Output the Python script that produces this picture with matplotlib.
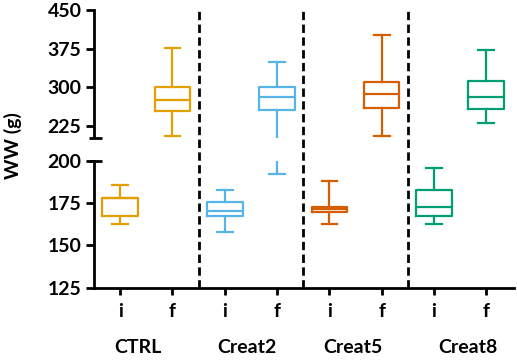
import matplotlib
matplotlib.use("Agg")
import matplotlib.pyplot as plt

plt.rcParams['font.family'] = ['Lato', 'DejaVu Sans']
plt.rcParams['font.weight'] = 'bold'

groups = ["CTRL", "Creat2", "Creat5", "Creat8"]
phases = ["i", "f"]
colors = ["#E69F00", "#56B4E9", "#D55E00", "#009E73"]

# initial (i) stats
whislo_i = [162.5, 158, 162.5, 162.5]
q1_i = [167.5, 167.5, 169.7, 167.3]
med_i = [177.8, 170.1, 171.3, 172.5]
q3_i = [177.8, 175.4, 172.8, 182.7]
whishi_i = [185.5, 182.7, 187.8, 195.5]

# final (f) stats
whislo_f = [204, 192, 205, 231]
q1_f = [254, 256, 259, 258]
med_f = [275.5, 280.6, 286.5, 280]
q3_f = [301, 301, 309.7, 311]
whishi_f = [375.5, 349, 401, 372]

group_label_x = [1.34, 3.43, 5.44, 7.65]

FS = 14
W, H = 517, 360
fig = plt.figure(figsize=(W / 100, H / 100), dpi=100)

left = 94 / W
right = 514 / W
ax_ov = fig.add_axes([left, 1 - 287.7 / H, right - left, (287.7 - 10) / H])
ax_up = fig.add_axes([left, 1 - 137.5 / H, right - left, (137.5 - 10) / H])
ax_lo = fig.add_axes([left, 1 - 287.7 / H, right - left, (287.7 - 160.7) / H])
ax_up.patch.set_alpha(0)
ax_lo.patch.set_alpha(0)

xlim = (0.5, 8.53)

stats = []
cols = []
for g in range(4):
    stats.append(dict(med=med_i[g], q1=q1_i[g], q3=q3_i[g], whislo=whislo_i[g], whishi=whishi_i[g], fliers=[]))
    cols.append(colors[g])
    stats.append(dict(med=med_f[g], q1=q1_f[g], q3=q3_f[g], whislo=whislo_f[g], whishi=whishi_f[g], fliers=[]))
    cols.append(colors[g])
positions = list(range(1, len(stats) + 1))

lw = 1.6
for ax in (ax_up, ax_lo):
    for s, p, c in zip(stats, positions, cols):
        ax.bxp([s], positions=[p], widths=0.68, showfliers=False,
               boxprops=dict(color=c, linewidth=lw),
               medianprops=dict(color=c, linewidth=lw),
               whiskerprops=dict(color=c, linewidth=lw),
               capprops=dict(color=c, linewidth=lw),
               capwidths=0.3, manage_ticks=False)
    ax.set_xlim(*xlim)
    for sp in ['top', 'right']:
        ax.spines[sp].set_visible(False)
    ax.spines['left'].set_linewidth(2)
    ax.spines['bottom'].set_linewidth(2)
    ax.tick_params(axis='y', length=6, width=2, labelsize=FS, pad=3)

ax_up.set_ylim(202, 450)
ax_up.set_yticks([225, 300, 375, 450])
ax_up.spines['bottom'].set_visible(False)
ax_up.set_xticks([])
ax_up.set_yticklabels(["225", "300", "375", "450"], fontweight='bold', fontsize=FS)

ax_lo.set_ylim(125, 200)
ax_lo.set_yticks([125, 150, 175, 200])
ax_lo.set_yticklabels(["125", "150", "175", "200"], fontweight='bold', fontsize=FS)
ax_lo.set_xticks(positions)
ax_lo.set_xticklabels(phases * 4, fontweight='bold', fontsize=FS)
ax_lo.tick_params(axis='x', length=5, width=2, labelsize=FS, pad=6)

# axis break marks
ax_up.plot([-0.012, 0.018], [0, 0], transform=ax_up.transAxes, color='black', lw=2, clip_on=False, solid_capstyle='butt')
ax_lo.plot([-0.012, 0.018], [1, 1], transform=ax_lo.transAxes, color='black', lw=2, clip_on=False, solid_capstyle='butt')

# dashed separators
ax_ov.set_xlim(*xlim)
ax_ov.set_ylim(0, 1)
ax_ov.axis('off')
for xs in [2.5, 4.5, 6.5]:
    ax_ov.axvline(xs, color='black', lw=2, linestyle=(0, (3, 1.6)))

for gx, name in zip(group_label_x, groups):
    ax_lo.text(gx, -0.47, name, transform=ax_lo.get_xaxis_transform(), ha='center', va='center',
               fontsize=FS, fontweight='bold')

fig.text(13 / W, 1 - 146 / H, "WW (g)", rotation=90, ha='center', va='center', fontsize=FS, fontweight='bold')

fig.savefig("out.png", dpi=100)
